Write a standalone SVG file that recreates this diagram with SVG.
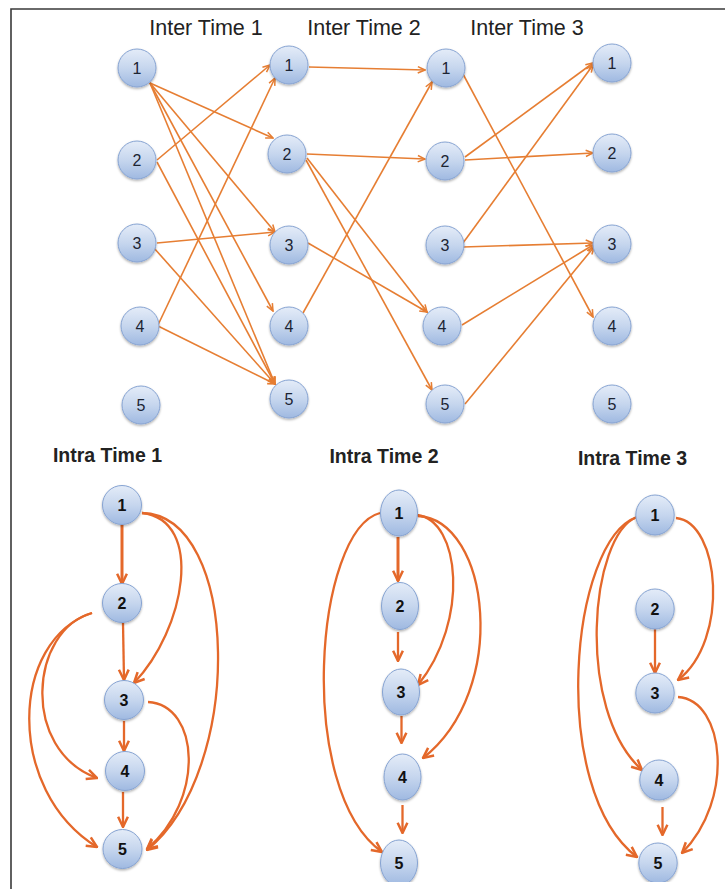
<svg xmlns="http://www.w3.org/2000/svg" width="725" height="889" viewBox="0 0 725 889">
<style>
.frame{fill:none;stroke:#3a3a3a;stroke-width:1.6}
.title{font-family:"Liberation Sans",Arial,sans-serif;font-size:21.5px;fill:#222;text-anchor:middle}
.title2{font-family:"Liberation Sans",Arial,sans-serif;font-size:19.5px;font-weight:bold;fill:#222;text-anchor:middle}
.node{fill:url(#g);stroke:#86a3d2;stroke-width:1;filter:url(#sh)}
.lbl{font-family:"Liberation Sans",Arial,sans-serif;font-size:16px;fill:#1c2433;text-anchor:middle;dominant-baseline:central}
.lblb{font-family:"Liberation Sans",Arial,sans-serif;font-size:16px;font-weight:bold;fill:#111;text-anchor:middle;dominant-baseline:central}
.e1{fill:none;stroke:#e67e33;stroke-width:1.6;marker-end:url(#aS)}
.e2{fill:none;stroke:#e4682a;stroke-width:2.3;marker-end:url(#aL)}
.e3{fill:none;stroke:#e4682a;stroke-width:3;marker-end:url(#aL)}
</style>
<defs>
<linearGradient id="g" x1="0" y1="0" x2="0" y2="1">
<stop offset="0" stop-color="#e4ecf8"/>
<stop offset="0.5" stop-color="#c6d6ee"/>
<stop offset="1" stop-color="#9fb9e1"/>
</linearGradient>
<filter id="sh" x="-30%" y="-30%" width="160%" height="160%">
<feDropShadow dx="0" dy="1.5" stdDeviation="1.2" flood-color="#000" flood-opacity="0.3"/>
</filter>
<marker id="aS" viewBox="0 0 10 10" refX="9" refY="5" markerWidth="9" markerHeight="9" markerUnits="userSpaceOnUse" orient="auto">
<path d="M1,1.5 L9,5 L1,8.5" fill="none" stroke="#e67e33" stroke-width="1.7"/>
</marker>
<marker id="aL" viewBox="0 0 12 12" refX="11" refY="6" markerWidth="13" markerHeight="13" markerUnits="userSpaceOnUse" orient="auto">
<path d="M1.5,1.5 L11,6 L1.5,10.5" fill="none" stroke="#e4682a" stroke-width="2.3"/>
</marker>
</defs>
<rect width="725" height="889" fill="#fff"/>
<path class="frame" d="M11,889 V9 H725"/>

<text class="title" x="206" y="35">Inter Time 1</text>
<text class="title" x="364" y="35">Inter Time 2</text>
<text class="title" x="527" y="35">Inter Time 3</text>
<text class="title2" x="107.5" y="461.5">Intra Time 1</text>
<text class="title2" x="384" y="463">Intra Time 2</text>
<text class="title2" x="632.5" y="465">Intra Time 3</text>

<g id="connectors">
<!-- inter col1 -> col2 -->
<path class="e1" d="M150,83 L273,138"/>
<path class="e1" d="M150,83 L275,232"/>
<path class="e1" d="M150,83 L273,311"/>
<path class="e1" d="M150,83 L275,384"/>
<path class="e1" d="M157,160 L270,65"/>
<path class="e1" d="M157,162 L275,384"/>
<path class="e1" d="M157,243 L275,232"/>
<path class="e1" d="M154,248 L275,384"/>
<path class="e1" d="M158,325 L275,78"/>
<path class="e1" d="M158,326 L275,384"/>
<!-- col2 -> col3 -->
<path class="e1" d="M309,67 L425,70"/>
<path class="e1" d="M307,154 L425,159"/>
<path class="e1" d="M307,158 L427,312"/>
<path class="e1" d="M306,160 L432,390"/>
<path class="e1" d="M308,243 L427,312"/>
<path class="e1" d="M303,313 L432,82"/>
<!-- col3 -> col4 -->
<path class="e1" d="M463,74 L593,317"/>
<path class="e1" d="M465,157 L593,63"/>
<path class="e1" d="M465,160 L593,153"/>
<path class="e1" d="M463,243 L593,65"/>
<path class="e1" d="M463,247 L593,243"/>
<path class="e1" d="M462,325 L593,245"/>
<path class="e1" d="M465,404 L594,247"/>

<!-- intra 1 -->
<path class="e3" d="M122,525 L122,584"/>
<path class="e2" d="M123,623 L124,680"/>
<path class="e2" d="M124,721 L124,751"/>
<path class="e2" d="M123,792 L123,827"/>
<path class="e2" d="M142,513 C205,520 185,630 134,683"/>
<path class="e2" d="M142,513 C240,515 245,770 147,850"/>
<path class="e2" d="M92,613 C30,630 20,750 97,778"/>
<path class="e2" d="M92,613 C10,640 5,790 97,847"/>
<path class="e2" d="M148,702 C200,705 205,800 147,849"/>

<!-- intra 2 -->
<path class="e3" d="M398,537 L398,581"/>
<path class="e2" d="M398,632 L398,661"/>
<path class="e2" d="M401.5,716 L401.5,743"/>
<path class="e2" d="M402.5,805 L402.5,833"/>
<path class="e2" d="M417,515 C460,520 470,620 418,685"/>
<path class="e2" d="M418,516 C490,520 510,690 423,758"/>
<path class="e2" d="M380,513 C315,530 295,790 382,852"/>

<!-- intra 3 -->
<path class="e2" d="M655,629 L655,673"/>
<path class="e2" d="M662.5,807 L662.5,835"/>
<path class="e2" d="M676,518 C720,522 730,640 678,680"/>
<path class="e2" d="M678,697 C725,700 735,800 682,853"/>
<path class="e2" d="M637,517 C590,535 575,710 642,770"/>
<path class="e2" d="M637,517 C570,540 548,790 637,857"/>
</g>

<!-- inter nodes col1 -->
<g id="t1n1"><circle class="node" cx="137" cy="68" r="19"/><text class="lbl" x="137" y="68">1</text></g>
<g id="t1n2"><circle class="node" cx="137" cy="160" r="19"/><text class="lbl" x="137" y="160">2</text></g>
<g id="t1n3"><circle class="node" cx="137" cy="243" r="19"/><text class="lbl" x="137" y="243">3</text></g>
<g id="t1n4"><circle class="node" cx="140" cy="326" r="19"/><text class="lbl" x="140" y="326">4</text></g>
<g id="t1n5"><circle class="node" cx="141" cy="405" r="19"/><text class="lbl" x="141" y="405">5</text></g>
<!-- col2 -->
<g id="t2n1"><circle class="node" cx="289" cy="65" r="19"/><text class="lbl" x="289" y="65">1</text></g>
<g id="t2n2"><circle class="node" cx="287" cy="154" r="19"/><text class="lbl" x="287" y="154">2</text></g>
<g id="t2n3"><circle class="node" cx="289" cy="245" r="19"/><text class="lbl" x="289" y="245">3</text></g>
<g id="t2n4"><circle class="node" cx="289" cy="326" r="19"/><text class="lbl" x="289" y="326">4</text></g>
<g id="t2n5"><circle class="node" cx="289" cy="399" r="19"/><text class="lbl" x="289" y="399">5</text></g>
<!-- col3 -->
<g id="t3n1"><circle class="node" cx="446" cy="68" r="19"/><text class="lbl" x="446" y="68">1</text></g>
<g id="t3n2"><circle class="node" cx="445" cy="161" r="19"/><text class="lbl" x="445" y="161">2</text></g>
<g id="t3n3"><circle class="node" cx="445" cy="245" r="19"/><text class="lbl" x="445" y="245">3</text></g>
<g id="t3n4"><circle class="node" cx="442" cy="326" r="19"/><text class="lbl" x="442" y="326">4</text></g>
<g id="t3n5"><circle class="node" cx="445" cy="404" r="19"/><text class="lbl" x="445" y="404">5</text></g>
<!-- col4 -->
<g id="t4n1"><circle class="node" cx="612" cy="63" r="19"/><text class="lbl" x="612" y="63">1</text></g>
<g id="t4n2"><circle class="node" cx="612" cy="153" r="19"/><text class="lbl" x="612" y="153">2</text></g>
<g id="t4n3"><circle class="node" cx="612" cy="244" r="19"/><text class="lbl" x="612" y="244">3</text></g>
<g id="t4n4"><circle class="node" cx="612" cy="326" r="19"/><text class="lbl" x="612" y="326">4</text></g>
<g id="t4n5"><circle class="node" cx="612" cy="404" r="19"/><text class="lbl" x="612" y="404">5</text></g>

<!-- intra 1 nodes -->
<g id="i1n1"><circle class="node" cx="122" cy="505" r="19.5"/><text class="lblb" x="122" y="505">1</text></g>
<g id="i1n2"><circle class="node" cx="122" cy="603" r="19.5"/><text class="lblb" x="122" y="603">2</text></g>
<g id="i1n3"><circle class="node" cx="124" cy="700" r="19.5"/><text class="lblb" x="124" y="700">3</text></g>
<g id="i1n4"><circle class="node" cx="125" cy="771" r="19.5"/><text class="lblb" x="125" y="771">4</text></g>
<g id="i1n5"><circle class="node" cx="122.5" cy="849" r="19.5"/><text class="lblb" x="122.5" y="849">5</text></g>
<!-- intra 2 nodes -->
<g id="i2n1"><ellipse class="node" cx="399" cy="513" rx="18.5" ry="23"/><text class="lblb" x="399" y="513">1</text></g>
<g id="i2n2"><ellipse class="node" cx="400" cy="606" rx="18.5" ry="23.5"/><text class="lblb" x="400" y="606">2</text></g>
<g id="i2n3"><ellipse class="node" cx="401" cy="692" rx="18.5" ry="23"/><text class="lblb" x="401" y="692">3</text></g>
<g id="i2n4"><ellipse class="node" cx="402.5" cy="777" rx="18.5" ry="23"/><text class="lblb" x="402.5" y="777">4</text></g>
<g id="i2n5"><ellipse class="node" cx="399" cy="863" rx="18.5" ry="23"/><text class="lblb" x="399" y="863">5</text></g>
<!-- intra 3 nodes -->
<g id="i3n1"><ellipse class="node" cx="655" cy="515" rx="19.2" ry="20"/><text class="lblb" x="655" y="515">1</text></g>
<g id="i3n2"><ellipse class="node" cx="655" cy="609" rx="19.2" ry="20"/><text class="lblb" x="655" y="609">2</text></g>
<g id="i3n3"><ellipse class="node" cx="655" cy="693" rx="19.2" ry="20"/><text class="lblb" x="655" y="693">3</text></g>
<g id="i3n4"><ellipse class="node" cx="659" cy="780" rx="19.2" ry="20"/><text class="lblb" x="659" y="780">4</text></g>
<g id="i3n5"><ellipse class="node" cx="658" cy="863" rx="19.2" ry="20"/><text class="lblb" x="658" y="863">5</text></g>

<rect x="300" y="882" width="425" height="7" fill="#fff"/>
</svg>
